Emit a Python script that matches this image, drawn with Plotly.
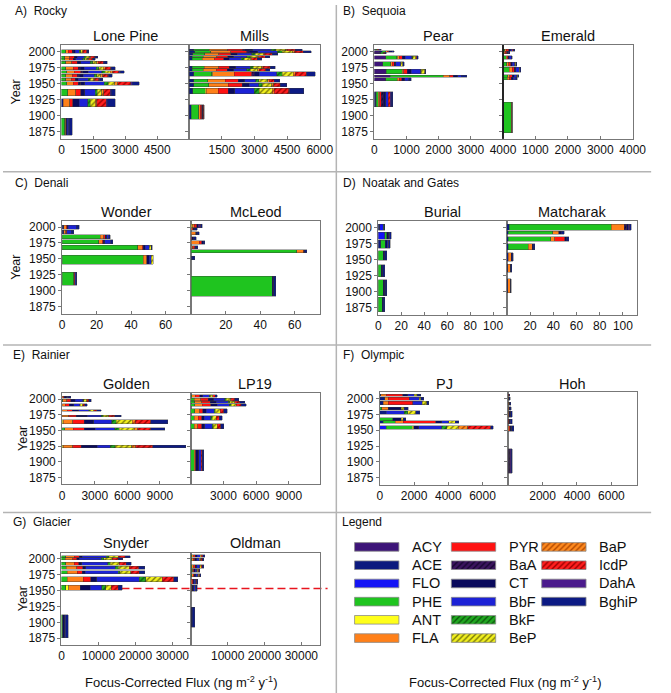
import plotly.graph_objects as go

W, H = 671, 693
FONT = "Liberation Sans, Arial, sans-serif"

COMPONENTS = ["ACY", "ACE", "FLO", "PHE", "ANT", "FLA", "PYR", "BaA",
              "CT", "BbF", "BkF", "BeP", "BaP", "IcdP", "DahA", "BghiP"]
COMPONENT_COLORS = ["#3d1478", "#0c1a7e", "#1414f5", "#1fc41f", "#ffff1a", "#ff8019",
                    "#ff1212", "#3b145e", "#0a0a5c", "#1c22d6", "#22a822", "#f2f01e",
                    "#ff8a1e", "#ff1e1e", "#4b1a8c", "#0c1a84"]
PATTERN_COLORS = [None, None, None, None, None, None, None, "#160530",
                  None, None, "#0c5a0c", "#7a7a0a", "#b04800", "#980000", None, None]

YEAR_TICKS = [1875, 1900, 1925, 1950, 1975, 2000]

# ---- data: year (centre of core interval), span (years), flux per component ----
# component order: ACY ACE FLO PHE ANT FLA PYR BaA CT BbF BkF BeP BaP IcdP DahA BghiP
LONE_PINE_YEAR = [1999.7, 1991, 1987.5, 1982.5, 1973.8, 1968, 1962, 1956.5, 1950.2, 1936.2, 1920.6, 1883]
LONE_PINE_SPAN = [5.7, 3, 3, 4, 4.5, 4.5, 4.5, 4, 5, 10.4, 12.5, 26.5]
LONE_PINE_FLUX = [
    [0, 0, 0, 200, 0, 120, 180, 60, 80, 200, 60, 80, 50, 150, 20, 90],
    [0, 0, 0, 150, 0, 240, 200, 0, 140, 350, 90, 160, 50, 190, 22, 120],
    [0, 0, 0, 150, 0, 220, 180, 0, 130, 330, 80, 150, 50, 170, 20, 110],
    [0, 0, 0, 200, 0, 280, 250, 0, 180, 450, 100, 200, 60, 250, 30, 150],
    [0, 0, 0, 200, 0, 350, 250, 80, 200, 550, 120, 220, 90, 250, 40, 180],
    [0, 0, 0, 250, 0, 350, 300, 100, 250, 650, 150, 250, 100, 300, 54, 200],
    [0, 0, 0, 200, 0, 300, 250, 80, 200, 500, 120, 200, 80, 250, 44, 170],
    [0, 0, 0, 200, 0, 250, 200, 0, 150, 450, 100, 150, 60, 200, 30, 150],
    [0, 0, 0, 250, 0, 300, 250, 100, 200, 900, 200, 300, 150, 600, 66, 350],
    [0, 0, 0, 300, 0, 370, 230, 0, 200, 480, 110, 200, 100, 300, 40, 200],
    [0, 80, 0, 0, 0, 300, 150, 0, 300, 400, 120, 230, 80, 450, 50, 370],
    [0, 0, 0, 150, 0, 40, 40, 0, 50, 60, 0, 0, 0, 0, 30, 130],
]

MILLS_YEAR = [2002.3, 1999.5, 1995.9, 1991.7, 1988.3, 1974.9, 1971, 1964.7, 1954.4, 1947.6, 1938.5, 1905.9]
MILLS_SPAN = [2.6, 3.1, 3.1, 3.1, 3.4, 3.6, 3.8, 7.0, 5.2, 5.2, 7.8, 22.3]
MILLS_FLUX = [
    [0, 220, 0, 700, 0, 850, 700, 80, 380, 850, 200, 450, 70, 380, 0, 320],
    [0, 250, 0, 750, 0, 900, 750, 100, 400, 900, 220, 500, 80, 400, 0, 350],
    [0, 170, 0, 550, 0, 650, 550, 0, 300, 650, 160, 380, 70, 330, 0, 250],
    [0, 150, 0, 500, 0, 620, 500, 0, 280, 600, 150, 330, 60, 300, 0, 220],
    [0, 150, 0, 450, 0, 550, 450, 0, 250, 550, 130, 300, 50, 250, 0, 200],
    [0, 150, 0, 550, 0, 650, 500, 0, 300, 650, 150, 380, 70, 320, 0, 230],
    [0, 150, 0, 500, 0, 600, 500, 0, 300, 600, 150, 350, 60, 300, 0, 200],
    [0, 200, 0, 830, 50, 1000, 800, 100, 250, 800, 250, 500, 100, 500, 20, 400],
    [0, 200, 0, 650, 0, 800, 600, 0, 300, 500, 150, 400, 70, 250, 0, 250],
    [0, 200, 0, 700, 0, 900, 650, 0, 300, 450, 150, 450, 80, 300, 0, 300],
    [0, 170, 0, 560, 45, 560, 450, 0, 300, 900, 230, 600, 100, 650, 50, 655],
    [0, 100, 0, 330, 0, 90, 60, 0, 40, 30, 0, 0, 0, 30, 0, 20],
]

PEAR_YEAR = [2002.6, 2000, 1997.7, 1990.6, 1980.2, 1968.5, 1961.5, 1957, 1925.8]
PEAR_SPAN = [2, 2, 2.6, 5.2, 7.3, 6.8, 3.1, 4.7, 23.4]
PEAR_FLUX = [
    [30, 0, 0, 40, 0, 20, 40, 0, 30, 30, 0, 0, 0, 0, 0, 20],
    [150, 100, 0, 100, 0, 50, 50, 0, 100, 40, 0, 0, 0, 0, 0, 30],
    [200, 0, 0, 80, 0, 20, 20, 0, 0, 25, 0, 0, 0, 0, 0, 20],
    [350, 0, 0, 350, 20, 60, 80, 0, 100, 200, 30, 100, 0, 30, 0, 40],
    [260, 0, 0, 250, 0, 50, 60, 0, 50, 150, 0, 70, 0, 0, 0, 35],
    [370, 0, 0, 500, 0, 50, 100, 0, 120, 300, 20, 100, 0, 20, 0, 20],
    [500, 0, 0, 1650, 0, 200, 100, 0, 150, 100, 0, 0, 0, 0, 0, 180],
    [360, 0, 0, 350, 0, 60, 80, 0, 100, 120, 0, 0, 0, 0, 0, 80],
    [0, 40, 20, 60, 0, 50, 50, 60, 80, 80, 0, 0, 0, 50, 30, 50],
]

EMERALD_YEAR = [2002, 1998.5, 1990.3, 1980.2, 1971.6, 1962, 1957.8, 1897.4]
EMERALD_SPAN = [3.1, 4.1, 5.7, 6.2, 7.8, 4.2, 4.2, 46.8]
EMERALD_FLUX = [
    [0, 0, 0, 60, 0, 40, 80, 0, 60, 50, 0, 0, 0, 25, 0, 50],
    [0, 0, 0, 40, 0, 30, 40, 0, 40, 30, 0, 0, 0, 0, 0, 30],
    [0, 0, 0, 100, 0, 30, 30, 0, 40, 60, 0, 0, 0, 0, 0, 30],
    [0, 0, 0, 120, 0, 60, 60, 0, 50, 80, 0, 20, 0, 0, 0, 35],
    [0, 0, 0, 200, 0, 80, 60, 0, 60, 100, 0, 20, 0, 0, 0, 35],
    [0, 0, 0, 150, 0, 60, 70, 0, 60, 90, 0, 20, 0, 0, 0, 35],
    [0, 0, 0, 130, 0, 60, 60, 0, 60, 80, 0, 0, 0, 0, 0, 45],
    [0, 0, 20, 230, 0, 15, 15, 0, 0, 0, 0, 0, 0, 0, 0, 10],
]

WONDER_YEAR = [1999.7, 1992, 1984.7, 1977, 1968, 1948.6, 1918.9]
WONDER_SPAN = [6.7, 5.7, 5.7, 6.7, 7.2, 14, 20.6]
WONDER_FLUX = [
    [0, 0.9, 0, 0, 0, 1.5, 0.5, 0, 0.5, 4.7, 0, 0, 0, 0, 0, 1.85],
    [0, 0.9, 0, 0, 0, 1.2, 0.5, 0, 0, 2.8, 0, 0, 0, 0, 0, 1.2],
    [0, 0, 0, 22.2, 0, 1.9, 0.8, 0, 1.0, 1.1, 0, 0, 0, 0, 0, 1.0],
    [0, 0, 0, 21.2, 0, 2.2, 0.5, 0, 0.8, 3.6, 0, 0, 0, 0, 0, 1.0],
    [0, 0, 0, 43.8, 0, 2.8, 0.5, 0, 1.0, 2.4, 0, 1.3, 0, 0, 0, 0.4],
    [0, 0, 0, 47.0, 0, 2.2, 0, 0, 1.2, 1.2, 0, 1.2, 0, 0, 0, 0],
    [0, 0, 0, 6.8, 0, 0, 0.4, 0, 0.4, 0.5, 0, 0, 0, 0, 0, 0.5],
]

MCLEOD_YEAR = [2001.5, 1996.9, 1990.2, 1982.7, 1975.7, 1968.7, 1962, 1951.2, 1907]
MCLEOD_SPAN = [5.1, 4.2, 5.2, 4.6, 5.2, 4.7, 4.7, 5.6, 31]
MCLEOD_FLUX = [
    [0, 0, 0, 0, 0.6, 1.0, 1.5, 0, 1.0, 0, 0, 0, 0, 0, 1.3, 1.0],
    [0, 0, 0, 0, 0, 0.5, 0.5, 0, 1.0, 0, 0, 0, 0, 0, 0, 1.4],
    [0, 0, 0, 0, 0, 2.5, 0.4, 0, 0.6, 0, 0, 0, 0, 0, 0, 1.0],
    [0, 0, 0, 0, 0, 0, 0.3, 0, 1.0, 0, 0, 0, 0, 0, 0, 1.5],
    [0, 0, 0, 0, 0, 4.5, 1.6, 0, 0.8, 0, 0, 0, 0, 0, 0, 1.0],
    [0, 0, 0, 0, 0, 0.8, 1.0, 0, 0.8, 0, 0, 0, 0, 0, 0, 1.0],
    [0, 0, 0, 61.3, 0, 3.8, 0.3, 0, 0.5, 0, 0, 0, 0, 0, 0, 1.0],
    [0, 0, 0, 0, 0, 0, 0, 0, 0.6, 0, 0, 0, 0, 0, 0, 1.3],
    [0, 0, 0, 47.1, 0, 0, 0, 0, 0.9, 0, 0, 0, 0, 0, 0, 1.0],
]

BURIAL_YEAR = [2000.5, 1987.6, 1974.2, 1956.6, 1932.9, 1906.2, 1879.7]
BURIAL_SPAN = [9.3, 10.3, 12.4, 14.5, 18.6, 24.3, 22.7]
BURIAL_FLUX = [
    [0, 1.4, 2.8, 0.5, 0, 0, 0, 0, 0.4, 0, 0, 0, 0, 0, 0, 0.5],
    [0, 0, 5.6, 2.0, 0, 0, 0, 0, 1.5, 0.7, 0, 0, 0, 0, 0, 1.5],
    [0, 2.0, 0, 4.2, 0, 0, 0, 0, 1.5, 0.8, 0, 0, 0, 0, 0.7, 1.3],
    [0, 0, 0, 4.2, 0, 0, 0, 0, 1.5, 0, 0, 0, 0, 0, 0, 1.9],
    [0, 0, 0, 2.8, 0, 0, 0, 0, 1.0, 0, 0, 0, 0, 0, 0, 1.8],
    [0, 0, 0, 4.2, 0, 0, 0, 0, 1.5, 0, 0, 0, 0, 0, 0.5, 1.4],
    [0, 0, 0, 3.7, 0, 0, 0, 0, 0.8, 0, 0, 0, 0, 0, 0, 1.1],
]

MATCHARAK_YEAR = [2000.8, 1992.2, 1982.4, 1970.5, 1954.3, 1937, 1909.6]
MATCHARAK_SPAN = [8.8, 5.1, 7.3, 9.3, 14, 12.4, 21.7]
MATCHARAK_FLUX = [
    [0, 2.0, 0, 87.9, 0, 11.3, 0, 2.0, 1.5, 0, 0, 0, 0, 0, 1.3, 1.0],
    [0, 1.0, 0, 38.6, 0, 5.1, 0, 0, 2.0, 0, 0, 0, 0, 0, 0, 2.6],
    [0, 1.1, 0, 36.6, 0, 3.7, 8.5, 0, 1.5, 0, 0, 0, 0, 0, 0, 1.8],
    [0, 1.1, 0, 17.5, 0, 3.1, 0, 0, 1.0, 0, 0, 0, 0, 0, 0, 1.5],
    [0, 1.0, 0, 0, 0, 2.8, 0, 0, 0.8, 0, 0, 0, 0, 0, 0, 1.0],
    [0, 0.8, 0, 0, 0, 2.2, 0, 0, 0.4, 0, 0, 0, 0, 0, 0, 0.8],
    [0, 0.8, 0, 0, 0, 2.0, 0, 0, 0.4, 0, 0, 0, 0, 0, 0, 0.7],
]

GOLDEN_YEAR = [2002.9, 1997.4, 1990.3, 1981.9, 1973.2, 1963.8, 1952.2, 1924.7]
GOLDEN_SPAN = [2.6, 4.2, 3.7, 2.6, 2.1, 6.3, 4.2, 3.7]
GOLDEN_FLUX = [
    [0, 0, 0, 0, 0, 100, 100, 0, 200, 100, 0, 0, 0, 76, 0, 200],
    [0, 0, 0, 50, 0, 350, 400, 0, 400, 700, 100, 250, 0, 200, 0, 240],
    [0, 0, 0, 0, 0, 300, 350, 0, 400, 550, 80, 200, 0, 200, 0, 250],
    [0, 0, 0, 0, 0, 450, 500, 0, 600, 900, 150, 300, 0, 300, 0, 380],
    [0, 0, 0, 0, 0, 600, 700, 0, 1000, 1300, 200, 500, 0, 560, 0, 600],
    [0, 0, 0, 0, 90, 900, 1040, 0, 900, 1640, 390, 1490, 300, 1400, 0, 1580],
    [0, 0, 0, 240, 0, 800, 1000, 0, 1000, 1800, 400, 1400, 300, 1200, 0, 1290],
    [0, 0, 0, 0, 90, 900, 750, 0, 1500, 1200, 450, 1500, 400, 1550, 0, 3030],
]

LP19_YEAR = [2004.7, 1999.5, 1995, 1990.5, 1980.8, 1969.6, 1956.7, 1902.8]
LP19_SPAN = [4.2, 4.2, 3.6, 4.2, 6.8, 7.3, 7.9, 33.6]
LP19_FLUX = [
    [0, 0, 0, 100, 0, 300, 400, 0, 300, 600, 80, 250, 0, 200, 0, 205],
    [0, 0, 0, 300, 0, 600, 700, 0, 500, 1000, 150, 400, 0, 400, 0, 375],
    [0, 0, 0, 350, 0, 650, 800, 0, 550, 1100, 150, 450, 0, 450, 0, 460],
    [0, 0, 0, 350, 0, 700, 800, 0, 600, 1100, 160, 450, 0, 470, 0, 480],
    [0, 0, 0, 350, 0, 450, 300, 0, 300, 750, 100, 450, 0, 330, 0, 300],
    [0, 0, 0, 300, 0, 400, 300, 0, 250, 600, 100, 400, 0, 280, 0, 250],
    [0, 0, 0, 300, 0, 350, 350, 0, 300, 650, 100, 400, 0, 300, 0, 280],
    [0, 0, 0, 300, 0, 100, 50, 0, 300, 200, 0, 0, 0, 120, 0, 120],
]

PJ_YEAR = [2005, 1999.5, 1992.7, 1983.9, 1978.1, 1967.2, 1962.8, 1954.5]
PJ_SPAN = [3.7, 4.2, 5.2, 4.1, 5.2, 4.2, 3.7, 5.7]
PJ_FLUX = [
    [0, 60, 0, 0, 0, 320, 950, 0, 300, 370, 0, 190, 0, 0, 0, 190],
    [0, 280, 0, 0, 0, 200, 1240, 0, 0, 570, 0, 90, 0, 0, 0, 190],
    [0, 190, 0, 0, 0, 290, 1430, 0, 0, 570, 0, 250, 0, 0, 0, 130],
    [0, 0, 0, 100, 0, 380, 0, 0, 760, 0, 0, 190, 0, 0, 0, 230],
    [0, 380, 0, 0, 0, 0, 0, 0, 0, 1050, 190, 480, 0, 0, 0, 220],
    [0, 0, 0, 760, 0, 0, 0, 0, 480, 0, 0, 130, 0, 0, 0, 150],
    [0, 190, 0, 720, 0, 460, 1900, 0, 340, 420, 0, 380, 0, 0, 0, 200],
    [0, 0, 380, 1520, 80, 0, 0, 0, 300, 1330, 290, 670, 570, 1330, 0, 160],
]

HOH_YEAR = [2005, 1999.5, 1991.7, 1984.4, 1975, 1963.6, 1952.6, 1901.3]
HOH_SPAN = [3.7, 4.2, 5.2, 5.2, 9.4, 7.3, 8.4, 39]
HOH_FLUX = [
    [0, 0, 0, 0, 0, 15, 15, 0, 25, 0, 0, 0, 0, 0, 0, 40],
    [0, 0, 0, 0, 0, 20, 20, 0, 30, 0, 0, 0, 0, 0, 0, 43],
    [0, 0, 0, 0, 0, 30, 25, 0, 40, 0, 0, 0, 0, 0, 0, 55],
    [0, 0, 0, 0, 0, 35, 30, 0, 55, 0, 0, 0, 0, 0, 0, 70],
    [0, 0, 0, 0, 0, 40, 35, 0, 65, 0, 0, 0, 0, 0, 0, 87],
    [0, 0, 0, 0, 0, 0, 20, 0, 80, 40, 0, 0, 0, 0, 0, 105],
    [0, 0, 0, 0, 0, 60, 50, 0, 90, 0, 0, 0, 0, 0, 20, 100],
    [40, 0, 0, 0, 0, 0, 0, 40, 50, 0, 0, 0, 0, 0, 60, 55],
]

SNYDER_YEAR = [2003.6, 2000.5, 1992.2, 1985.8, 1978.8, 1967.7, 1954.3, 1894.1]
SNYDER_SPAN = [3.1, 3.1, 5.1, 4.6, 5.2, 7.8, 7.8, 36.2]
SNYDER_FLUX = [
    [0, 0, 0, 1100, 0, 2400, 1300, 0, 800, 6500, 700, 2500, 0, 1900, 0, 1390],
    [0, 0, 0, 1000, 0, 2000, 1100, 0, 700, 6000, 600, 2300, 0, 1700, 0, 1240],
    [0, 0, 0, 1200, 0, 2300, 1200, 0, 800, 7000, 700, 2500, 0, 1800, 0, 1350],
    [0, 0, 0, 1300, 0, 2900, 1500, 0, 900, 8000, 800, 3000, 0, 2500, 0, 1670],
    [0, 0, 0, 1590, 0, 2650, 1330, 0, 890, 8850, 500, 3000, 0, 2210, 0, 1550],
    [0, 0, 0, 1590, 0, 4250, 2120, 0, 1590, 11500, 1770, 4430, 0, 3100, 0, 1070],
    [0, 0, 0, 1150, 880, 3100, 0, 0, 2650, 3100, 1150, 1500, 0, 1770, 0, 1160],
    [0, 0, 0, 300, 0, 100, 0, 0, 500, 200, 0, 0, 0, 0, 0, 670],
]

OLDMAN_YEAR = [2004.4, 1999, 1988.1, 1981.9, 1974.2, 1964.1, 1954, 1908.1]
OLDMAN_SPAN = [3.6, 4.1, 5.2, 5.2, 5.2, 7.8, 9.3, 31]
OLDMAN_FLUX = [
    [0, 0, 0, 300, 0, 500, 400, 0, 500, 800, 0, 400, 0, 400, 0, 420],
    [0, 0, 0, 250, 0, 450, 400, 0, 450, 750, 0, 400, 0, 350, 0, 400],
    [0, 0, 0, 300, 0, 500, 400, 0, 450, 750, 0, 400, 0, 350, 0, 390],
    [0, 0, 0, 200, 0, 350, 250, 0, 350, 500, 0, 250, 0, 200, 0, 290],
    [0, 0, 0, 200, 0, 400, 300, 0, 400, 550, 0, 300, 0, 250, 0, 340],
    [0, 0, 0, 150, 0, 250, 200, 0, 350, 400, 0, 150, 0, 150, 0, 300],
    [0, 0, 0, 100, 0, 200, 150, 0, 350, 350, 0, 130, 0, 100, 0, 300],
    [0, 0, 0, 0, 0, 0, 0, 0, 300, 100, 0, 0, 0, 0, 0, 660],
]

GLACIER_MARKER_YEAR = 1953.5

LAKE_DATA = {
    "Lone Pine": (LONE_PINE_YEAR, LONE_PINE_SPAN, LONE_PINE_FLUX),
    "Mills": (MILLS_YEAR, MILLS_SPAN, MILLS_FLUX),
    "Pear": (PEAR_YEAR, PEAR_SPAN, PEAR_FLUX),
    "Emerald": (EMERALD_YEAR, EMERALD_SPAN, EMERALD_FLUX),
    "Wonder": (WONDER_YEAR, WONDER_SPAN, WONDER_FLUX),
    "McLeod": (MCLEOD_YEAR, MCLEOD_SPAN, MCLEOD_FLUX),
    "Burial": (BURIAL_YEAR, BURIAL_SPAN, BURIAL_FLUX),
    "Matcharak": (MATCHARAK_YEAR, MATCHARAK_SPAN, MATCHARAK_FLUX),
    "Golden": (GOLDEN_YEAR, GOLDEN_SPAN, GOLDEN_FLUX),
    "LP19": (LP19_YEAR, LP19_SPAN, LP19_FLUX),
    "PJ": (PJ_YEAR, PJ_SPAN, PJ_FLUX),
    "Hoh": (HOH_YEAR, HOH_SPAN, HOH_FLUX),
    "Snyder": (SNYDER_YEAR, SNYDER_SPAN, SNYDER_FLUX),
    "Oldman": (OLDMAN_YEAR, OLDMAN_SPAN, OLDMAN_FLUX),
}

# ---- layout (pixel geometry) ----
PANELS = [
    dict(label="A)  Rocky", lakes=("Lone Pine", "Mills"), xs=(60, 191, 325), ys=(44, 138),
         xmax=6000, lt=[0, 1500, 3000, 4500], rt=[1500, 3000, 4500, 6000],
         lab=(10, 10), title_y=35, year_x=13),
    dict(label="B)  Sequoia", lakes=("Pear", "Emerald"), xs=(381, 513, 646), ys=(44, 138),
         xmax=4000, lt=[0, 1000, 2000, 3000, 4000], rt=[1000, 2000, 3000, 4000],
         lab=(347, 10), title_y=35, year_x=None),
    dict(label="C)  Denali", lakes=("Wonder", "McLeod"), xs=(60.7, 193.3, 325.7), ys=(220, 313),
         xmax=75, lt=[0, 20, 40, 60], rt=[20, 40, 60],
         lab=(10, 182), title_y=211.7, year_x=13),
    dict(label="D)  Noatak and Gates", lakes=("Burial", "Matcharak"), xs=(385, 517, 650.3), ys=(220.7, 314),
         xmax=112, lt=[0, 20, 40, 60, 80, 100], rt=[20, 40, 60, 80, 100],
         lab=(347, 182), title_y=211.7, year_x=None),
    dict(label="E)  Rainier", lakes=("Golden", "LP19"), xs=(60.7, 192.7, 325), ys=(392.3, 484),
         xmax=11850, lt=[0, 3000, 6000, 9000], rt=[3000, 6000, 9000],
         lab=(8.5, 355), title_y=383.3, year_x=20),
    dict(label="F)  Olympic", lakes=("PJ", "Hoh"), xs=(386.7, 518.3, 650.7), ys=(391.7, 484.3),
         xmax=7500, lt=[0, 2000, 4000, 6000], rt=[2000, 4000, 6000],
         lab=(347, 355), title_y=383.3, year_x=None),
    dict(label="G)  Glacier", lakes=("Snyder", "Oldman"), xs=(60, 192.7, 325), ys=(552.3, 645),
         xmax=35000, lt=[0, 10000, 20000, 30000], rt=[10000, 20000, 30000],
         lab=(8.5, 521.7), title_y=542.3, year_x=20),
]
YRANGE = [1864.3, 2010]
AXCOL = "#777777"
TXT = "#111111"


def fx(px):
    return px / W


def fy(py):
    return 1 - py / H


fig = go.Figure()
layout = dict(width=W, height=H, autosize=False, margin=dict(l=0, r=0, t=0, b=0, pad=0),
              paper_bgcolor="white", plot_bgcolor="white", barmode="stack",
              showlegend=False, font=dict(family=FONT, color=TXT, size=12))
annotations = []
shapes = []

k = 0
for p in PANELS:
    for side in (0, 1):
        k += 1
        lake = p["lakes"][side]
        years, spans, flux = LAKE_DATA[lake]
        xa = "x" if k == 1 else f"x{k}"
        ya = "y" if k == 1 else f"y{k}"
        for ci, comp in enumerate(COMPONENTS):
            vals = [row[ci] if row[ci] > 0 else None for row in flux]
            marker = dict(color=COMPONENT_COLORS[ci], line=dict(color="#3a3a3a", width=0.4))
            if PATTERN_COLORS[ci]:
                marker["pattern"] = dict(shape="/", fgcolor=PATTERN_COLORS[ci],
                                         bgcolor=COMPONENT_COLORS[ci], fillmode="replace",
                                         size=4, solidity=0.35)
            fig.add_trace(go.Bar(orientation="h", y=years, x=vals, width=spans,
                                 name=comp, marker=marker, xaxis=xa, yaxis=ya,
                                 hoverinfo="skip"))
        x0, x1 = p["xs"][side], p["xs"][side + 1]
        y0, y1 = p["ys"]
        kx = "xaxis" if k == 1 else f"xaxis{k}"
        ky = "yaxis" if k == 1 else f"yaxis{k}"
        tv = p["lt"] if side == 0 else p["rt"]
        layout[kx] = dict(domain=[fx(x0), fx(x1)], range=[0, p["xmax"]], anchor=ya,
                          tickvals=tv, ticktext=[str(v) for v in tv],
                          ticks="inside", ticklen=3, tickcolor=AXCOL,
                          showline=True, linecolor=AXCOL, linewidth=1, mirror=True,
                          showgrid=False, zeroline=False, fixedrange=True,
                          tickfont=dict(size=12, color=TXT, family=FONT))
        layout[ky] = dict(domain=[fy(y1), fy(y0)], range=YRANGE, anchor=xa,
                          tickvals=YEAR_TICKS, showticklabels=(side == 0),
                          ticks="outside", ticklen=3, tickcolor=AXCOL,
                          showline=True, linecolor=AXCOL, linewidth=1, mirror=True,
                          showgrid=False, zeroline=False, fixedrange=True,
                          tickfont=dict(size=12, color=TXT, family=FONT))
        annotations.append(dict(x=fx((x0 + x1) / 2), y=fy(p["title_y"]), xref="paper", yref="paper",
                                text=lake, showarrow=False, xanchor="center", yanchor="middle",
                                font=dict(size=14.5, color=TXT, family=FONT)))
    annotations.append(dict(x=fx(p["lab"][0]), y=fy(p["lab"][1]), xref="paper", yref="paper",
                            text=p["label"], showarrow=False, xanchor="left", yanchor="middle",
                            font=dict(size=12, color=TXT, family=FONT)))
    if p["year_x"] is not None:
        annotations.append(dict(x=fx(p["year_x"]), y=fy((p["ys"][0] + p["ys"][1]) / 2),
                                xref="paper", yref="paper", text="Year", textangle=-90,
                                showarrow=False, xanchor="center", yanchor="middle",
                                font=dict(size=12.5, color=TXT, family=FONT)))

# Glacier red dashed reference line (spans Snyder and Oldman)
shapes.append(dict(type="line", xref="paper", yref="y13", x0=fx(60), x1=fx(333),
                   y0=GLACIER_MARKER_YEAR, y1=GLACIER_MARKER_YEAR, layer="below",
                   line=dict(color="#e8141e", width=1.5, dash="8px,4px")))
# Sequoia divider drawn darker
shapes.append(dict(type="line", xref="paper", yref="paper", x0=fx(513), x1=fx(513),
                   y0=fy(138), y1=fy(44), line=dict(color="#111111", width=1.6)))

# panel separators
SEP = "#b4b4b4"
shapes.append(dict(type="line", xref="paper", yref="paper", x0=fx(342), x1=fx(342),
                   y0=fy(4), y1=fy(693), line=dict(color=SEP, width=1.5)))
for yy in (171, 344.5, 512.3):
    shapes.append(dict(type="line", xref="paper", yref="paper", x0=0, x1=fx(665),
                       y0=fy(yy), y1=fy(yy), line=dict(color=SEP, width=1.5)))

# x-axis titles
for cx in (183, 515):
    annotations.append(dict(x=fx(cx), y=fy(681.5), xref="paper", yref="paper",
                            text="Focus-Corrected Flux (ng m<sup>-2</sup> y<sup>-1</sup>)",
                            showarrow=False, xanchor="center", yanchor="middle",
                            font=dict(size=13, color=TXT, family=FONT)))

# legend panel (own axis in pixel units)
LEG_COL_X = [360.7, 460, 552.7]
LEG_ROW_Y = [546.7, 565, 583.3, 601.5, 619.7, 638]
SW_W, SW_H = 45.5, 8.6
layout["xaxis15"] = dict(domain=[fx(340), 1], range=[340, W], visible=False, anchor="y15", fixedrange=True)
layout["yaxis15"] = dict(domain=[fy(660), fy(515)], range=[660, 515], visible=False, anchor="x15", fixedrange=True)
for ci, comp in enumerate(COMPONENTS):
    col, row = ci // 6, ci % 6
    lx, ly = LEG_COL_X[col], LEG_ROW_Y[row]
    kw = {}
    if PATTERN_COLORS[ci]:
        kw["fillpattern"] = dict(shape="/", fgcolor=PATTERN_COLORS[ci], bgcolor=COMPONENT_COLORS[ci],
                                 fillmode="replace", size=4, solidity=0.35)
    fig.add_trace(go.Scatter(x=[lx, lx + SW_W, lx + SW_W, lx, lx],
                             y=[ly - SW_H / 2, ly - SW_H / 2, ly + SW_H / 2, ly + SW_H / 2, ly - SW_H / 2],
                             mode="lines", fill="toself", fillcolor=COMPONENT_COLORS[ci],
                             line=dict(color="#8a8a8a", width=0.8), xaxis="x15", yaxis="y15",
                             hoverinfo="skip", **kw))
    annotations.append(dict(x=fx(lx + SW_W + 11.5), y=fy(ly), xref="paper", yref="paper",
                            text=comp, showarrow=False, xanchor="left", yanchor="middle",
                            font=dict(size=14.5, color=TXT, family=FONT)))
annotations.append(dict(x=fx(345.5), y=fy(522), xref="paper", yref="paper", text="Legend",
                        showarrow=False, xanchor="left", yanchor="middle",
                        font=dict(size=12, color=TXT, family=FONT)))

layout["annotations"] = annotations
layout["shapes"] = shapes
fig.update_layout(**layout)
fig.write_html("out.html",
               config={"displayModeBar": False, "responsive": False, "staticPlot": True},
               post_script="document.documentElement.style.overflow='hidden';"
                           "document.body.style.margin='0';document.body.style.overflow='hidden';")
